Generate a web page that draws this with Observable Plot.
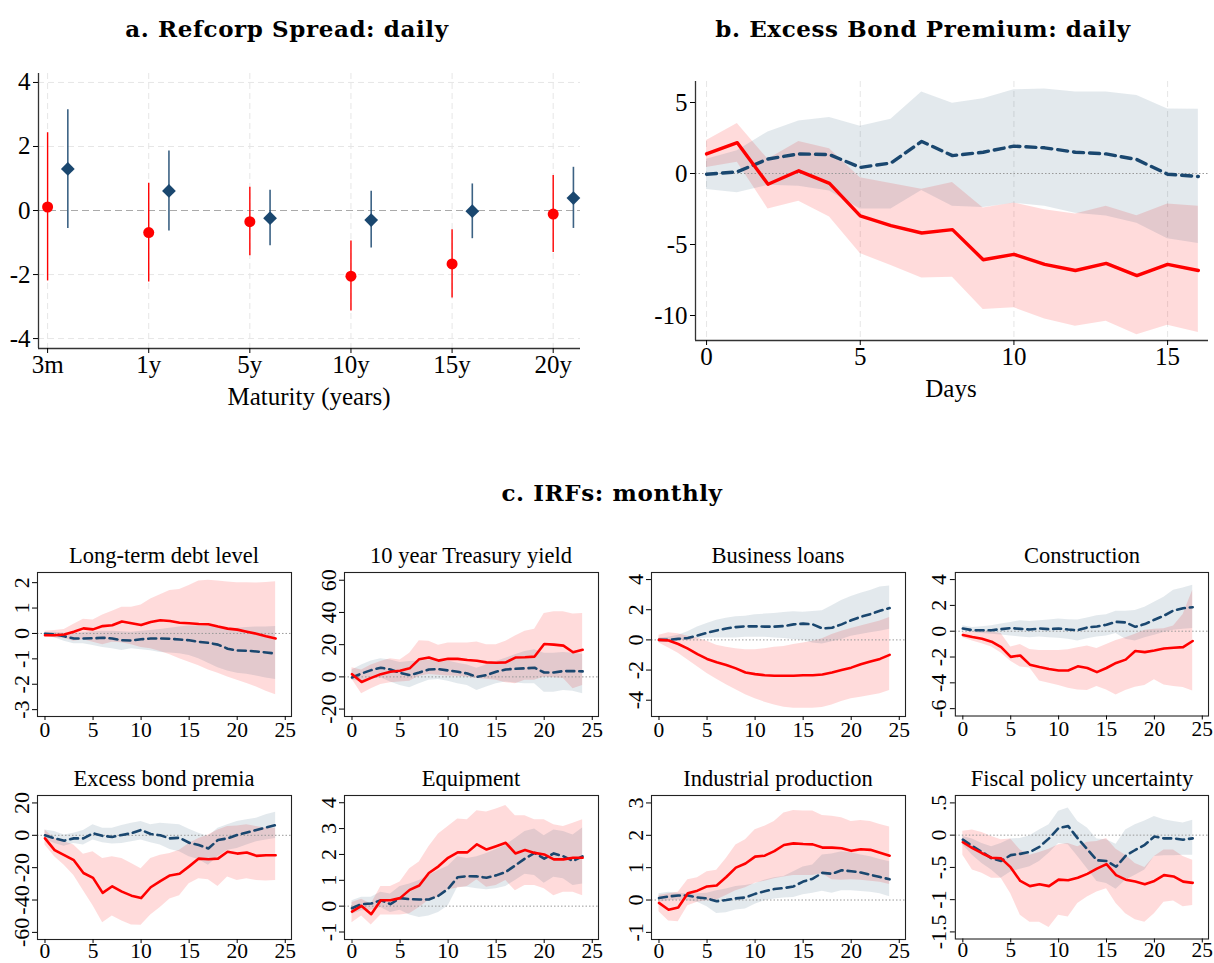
<!DOCTYPE html>
<html><head><meta charset="utf-8">
<script src="https://cdn.jsdelivr.net/npm/d3@7"></script>
<script src="https://cdn.jsdelivr.net/npm/@observablehq/plot@0.6"></script>
<style>
body{margin:0;background:#fff;}
#root{position:relative;width:1214px;height:963px;overflow:hidden;font-family:"Liberation Serif",serif;color:#000;}
.pane{position:absolute;}
.ttl{position:absolute;white-space:nowrap;transform:translate(-50%,-50%);line-height:1;}
.big{font-family:"DejaVu Serif",serif;font-weight:bold;font-size:23px;letter-spacing:0.6px;}
.sm{font-size:22.5px;}
.lab{font-size:25px;}
</style></head><body><div id="root"></div><script>
// ---------- Panel a: Refcorp spread ----------
const maturities = ["3m","1y","5y","10y","15y","20y"];
const refRed    = [0.11,-0.69,-0.35,-2.05,-1.67,-0.11];
const refRedLo  = [-2.2,-2.23,-1.41,-3.14,-2.73,-1.31];
const refRedHi  = [2.43,0.85,0.73,-0.95,-0.6,1.09];
const refBlue   = [1.3,0.61,-0.24,-0.3,-0.02,0.39];
const refBlueLo = [-0.56,-0.64,-1.1,-1.17,-0.88,-0.56];
const refBlueHi = [3.15,1.86,0.63,0.6,0.83,1.35];

// ---------- Panel b: Excess bond premium daily ----------
const days = [0,1,2,3,4,5,6,7,8,9,10,11,12,13,14,15,16];
const ebpRed    = [1.38,2.17,-0.76,0.19,-0.69,-2.98,-3.67,-4.19,-3.95,-6.07,-5.69,-6.4,-6.83,-6.33,-7.19,-6.4,-6.83];
const ebpRedHi  = [2.33,3.52,1.0,2.26,1.74,-0.29,-0.71,-1.1,-0.64,-2.43,-2.07,-2.55,-2.86,-2.31,-2.98,-2.14,-2.31];
const ebpRedLo  = [0.43,0.8,-2.5,-1.95,-3.07,-5.64,-6.48,-7.36,-7.31,-9.57,-9.45,-10.24,-10.76,-10.4,-11.36,-10.69,-11.19];
const ebpBlue   = [-0.05,0.12,1.02,1.38,1.33,0.43,0.74,2.26,1.26,1.5,1.93,1.81,1.5,1.38,0.98,-0.05,-0.21];
const ebpBlueHi = [1.0,1.6,2.93,3.69,3.95,3.33,3.83,5.74,4.95,5.26,5.9,5.95,5.74,5.74,5.5,4.55,4.52];
const ebpBlueLo = [-1.12,-1.35,-0.83,-0.9,-1.24,-2.5,-2.5,-1.2,-2.3,-2.4,-2.1,-2.3,-2.8,-3.0,-3.5,-4.6,-4.93];

// ---------- Panel c: monthly IRFs ----------
const months = [0,1,2,3,4,5,6,7,8,9,10,11,12,13,14,15,16,17,18,19,20,21,22,23,24];

const debtRed    = [-0.07,-0.07,-0.04,0.07,0.2,0.16,0.29,0.32,0.47,0.4,0.33,0.45,0.52,0.49,0.42,0.4,0.37,0.36,0.27,0.19,0.15,0.07,-0.01,-0.11,-0.2];
const debtRedLo  = [-0.13,-0.17,-0.2,-0.31,-0.25,-0.35,-0.44,-0.35,-0.37,-0.44,-0.55,-0.6,-0.71,-0.84,-1.0,-1.13,-1.27,-1.44,-1.57,-1.71,-1.84,-1.97,-2.11,-2.28,-2.41];
const debtRedHi  = [0.09,0.12,0.16,0.36,0.56,0.53,0.73,0.87,1.03,1.03,1.12,1.36,1.52,1.69,1.73,1.89,2.07,2.09,2.07,2.03,2.0,2.0,1.99,2.01,2.04];
const debtBlue   = [-0.01,-0.04,-0.11,-0.2,-0.2,-0.19,-0.17,-0.2,-0.27,-0.28,-0.23,-0.2,-0.2,-0.21,-0.24,-0.27,-0.33,-0.37,-0.44,-0.6,-0.67,-0.68,-0.71,-0.75,-0.79];
const debtBlueLo = [-0.08,-0.17,-0.31,-0.41,-0.41,-0.47,-0.55,-0.6,-0.67,-0.6,-0.64,-0.68,-0.75,-0.77,-0.8,-0.87,-1.0,-1.17,-1.35,-1.48,-1.57,-1.61,-1.68,-1.75,-1.81];
const debtBlueHi = [0.03,0.05,0.01,-0.01,0.03,0.07,0.09,0.09,0.07,0.05,0.09,0.12,0.16,0.2,0.25,0.29,0.29,0.29,0.25,0.2,0.2,0.23,0.25,0.25,0.27];

const tsyRed    = [1.7,-3.2,-0.6,1.7,3.2,3.8,5.3,11,12,10.1,11.2,11.2,10.5,10,9,8.8,9,12,12.2,12.6,20.4,20,19.4,15.3,16.8];
const tsyRedLo  = [-1.5,-10.5,-7.4,-4.8,-3.6,-3.2,-2.7,0.4,1.5,1,0.6,0.4,0,-1,-1.5,-2.1,-3.6,-4.2,-2.1,-2.1,0,-0.6,-1,-7.4,-5.3];
const tsyRedHi  = [5.7,4.2,7.4,9.5,11.2,10.5,14.7,22.5,22.1,19.6,21,21,21,21.7,20,20,22.1,25.3,28.4,29.5,39.4,40.4,40.4,39,39.4];
const tsyBlue   = [-0.4,2.1,4.2,5.7,4.6,2.5,1.1,2.7,4.6,4.8,4,3.2,2.1,0,1.1,3.2,4.6,5,5.3,5.7,2.7,2.7,3.6,3.6,3.4];
const tsyBlueLo = [-2.1,-2.7,-1.5,-0.6,-3.2,-5.3,-6.7,-4.2,-2.1,-1.7,-2.7,-4.2,-5.3,-8.4,-6.3,-4.2,-3.2,-3.8,-4.2,-4.2,-9.5,-9.5,-8.4,-9,-10.5];
const tsyBlueHi = [4.2,7.4,9.9,11.2,10.5,9,9.5,9.9,10.5,10.5,9.9,8.4,7.4,5.3,7.4,9.5,11.6,13.7,15.8,16.8,14.7,14.7,15.2,14.7,14.1];

const loanRed    = [0,-0.04,-0.27,-0.58,-0.94,-1.26,-1.48,-1.66,-1.89,-2.16,-2.27,-2.34,-2.38,-2.38,-2.38,-2.34,-2.34,-2.29,-2.16,-2.0,-1.84,-1.62,-1.44,-1.26,-0.99];
const loanRedLo  = [-0.2,-0.54,-0.88,-1.33,-1.78,-2.22,-2.61,-2.97,-3.3,-3.64,-3.91,-4.13,-4.31,-4.47,-4.54,-4.54,-4.54,-4.49,-4.31,-4.09,-3.91,-3.8,-3.69,-3.57,-3.35];
const loanRedHi  = [0.31,0.47,0.4,0.25,0.13,-0.09,-0.36,-0.49,-0.58,-0.65,-0.65,-0.58,-0.49,-0.43,-0.31,-0.2,-0.09,0.07,0.36,0.58,0.76,0.92,1.08,1.26,1.48];
const loanBlue   = [0,0,0.07,0.13,0.29,0.47,0.63,0.76,0.85,0.9,0.9,0.88,0.88,0.92,1.03,1.08,1.03,0.76,0.81,1.03,1.3,1.53,1.71,1.93,2.11];
const loanBlueLo = [-0.09,-0.09,-0.04,-0.04,0.07,0.13,0.13,0.13,0.13,0.18,0.18,0.18,0.13,0.09,0.02,-0.04,-0.2,-0.27,-0.13,0.02,0.25,0.36,0.47,0.58,0.7];
const loanBlueHi = [0.13,0.18,0.31,0.54,0.85,1.08,1.3,1.44,1.53,1.57,1.66,1.71,1.75,1.82,1.87,1.84,1.89,1.93,2.27,2.61,2.88,3.1,3.28,3.51,3.57];

const consRed    = [-0.29,-0.45,-0.58,-0.81,-1.23,-1.99,-1.88,-2.59,-2.77,-2.93,-3.04,-3.04,-2.72,-2.85,-3.17,-2.85,-2.46,-2.2,-1.54,-1.62,-1.49,-1.34,-1.28,-1.23,-0.76];
const consRedLo  = [-0.5,-0.76,-0.97,-1.23,-1.68,-2.33,-2.77,-2.85,-3.85,-4.03,-4.21,-4.42,-4.55,-4.6,-4.29,-4.55,-4.95,-4.6,-4.35,-4.21,-3.77,-4.16,-4.29,-4.37,-4.63];
const consRedHi  = [-0.1,-0.05,0.03,-0.05,-0.18,-1.23,-1.02,-1.41,-1.49,-1.49,-1.49,-1.44,-1.28,-1.15,-1.34,-1.02,-0.71,-0.5,-0.24,0.08,0.16,0.2,0.4,1.3,3.17];
const consBlue   = [0.21,0.08,0.08,0.08,0.16,0.24,0.18,0.13,0.21,0.16,0.21,0.13,0.08,0.29,0.37,0.5,0.73,0.68,0.34,0.55,0.89,1.2,1.6,1.78,1.86];
const consBlueLo = [0.03,-0.1,-0.18,-0.24,-0.29,-0.37,-0.45,-0.5,-0.45,-0.5,-0.55,-0.63,-0.76,-0.58,-0.45,-0.37,-0.18,-0.63,-0.76,-0.5,-0.31,-0.1,0.08,0.16,0.21];
const consBlueHi = [0.42,0.29,0.34,0.42,0.55,0.68,0.81,0.76,0.81,0.86,0.94,0.89,0.86,1.02,1.2,1.28,1.54,1.54,1.6,1.86,2.25,2.64,3.17,3.35,3.56];

const ebmRed    = [-1.9,-9.2,-12.3,-15.4,-23.3,-26.3,-35.6,-31.5,-34.8,-37.3,-38.8,-32.1,-28.3,-24.8,-23.8,-19.2,-14.4,-14.8,-14.4,-10.2,-11.3,-10.6,-12.7,-12.3,-12.3];
const ebmRedLo  = [-6,-13.3,-18.5,-24.8,-34.2,-43.5,-54,-49.8,-52.9,-55.4,-55.6,-49.2,-44.6,-39.4,-37.3,-30,-26.9,-27.5,-31.7,-25.8,-27.9,-26.9,-27.9,-28.3,-27.9];
const ebmRedHi  = [3.3,-1.9,-4,-6,-11.7,-10.2,-14.4,-13.3,-14.4,-17.5,-20.6,-14.4,-12.3,-11.3,-9.2,-5,-1.9,0.2,3.3,5.4,5.8,6.5,5.4,4.4,4.4];
const ebmBlue   = [0,-1.9,-3.3,-1.9,-1.9,1.3,-0.4,-1,0.2,1.3,3.3,0.8,0,-1.9,-1.5,-4.6,-6,-8.1,-2.9,-1.9,0.2,1.7,3.3,4.8,6.3];
const ebmBlueLo = [-2.5,-5,-6.7,-5,-6,-2.9,-4.6,-5.4,-5,-4,-2.9,-4.6,-6,-8.8,-10.2,-13.3,-15,-18.5,-13.3,-9.2,-8.1,-6,-4,-2.9,-1.9];
const ebmBlueHi = [3.3,2.3,0.2,1.3,2.9,6.5,4.4,4.4,6,7.5,8.5,6.5,7.5,7,6.5,3.8,1.3,-0.8,4.4,6.5,8.5,9.6,10.6,12.7,14.2];

const equRed    = [-0.21,0.01,-0.31,0.23,0.23,0.31,0.63,0.8,1.28,1.54,1.87,2.08,2.08,2.39,2.19,2.32,2.45,2.04,2.17,2.06,2.0,1.81,1.81,1.87,1.87];
const equRedLo  = [-0.64,-0.38,-0.73,-0.34,-0.34,-0.34,-0.29,-0.05,0.23,0.34,0.63,0.7,0.76,1.02,0.73,0.8,0.99,0.6,0.8,0.8,0.67,0.4,0.54,0.54,0.4];
const equRedHi  = [0.14,0.27,0.08,0.76,0.76,0.93,1.45,1.71,2.3,2.79,3.08,3.37,3.34,3.69,3.64,3.76,3.89,3.5,3.5,3.34,3.34,3.15,3.08,3.21,3.34];
const equBlue   = [-0.08,0.08,0.1,0.23,0.08,0.31,0.27,0.26,0.26,0.4,0.67,1.12,1.16,1.15,1.1,1.19,1.32,1.58,1.84,2.06,1.84,2.04,1.93,1.75,1.93];
const equBlueLo = [-0.31,-0.18,-0.16,-0.05,-0.25,-0.16,-0.34,-0.44,-0.38,-0.25,0.01,0.73,0.73,0.67,0.63,0.67,0.76,0.99,1.23,1.19,0.89,1.12,1.06,0.8,0.86];
const equBlueHi = [0.21,0.34,0.34,0.54,0.47,0.76,0.86,0.99,1.19,1.38,1.54,1.91,1.84,1.91,2.04,2.19,2.36,2.62,2.89,2.98,2.72,2.95,2.89,2.75,3.02];

const ipRed    = [-0.09,-0.3,-0.23,0.21,0.29,0.42,0.45,0.71,1.0,1.13,1.34,1.37,1.51,1.7,1.75,1.73,1.72,1.62,1.62,1.6,1.52,1.57,1.55,1.46,1.37];
const ipRedLo  = [-0.36,-0.65,-0.67,-0.18,-0.07,-0.02,0,0.14,0.29,0.38,0.52,0.58,0.66,0.71,0.76,0.76,0.76,0.81,0.63,0.61,0.63,0.61,0.58,0.55,0.48];
const ipRedHi  = [0.14,0.19,0.24,0.63,0.69,0.87,0.92,1.28,1.7,1.86,2.17,2.28,2.43,2.69,2.77,2.75,2.75,2.61,2.59,2.54,2.43,2.46,2.43,2.33,2.26];
const ipBlue   = [0.06,0.11,0.14,0.14,0.08,0.05,-0.04,0,0.05,0.08,0.19,0.27,0.34,0.37,0.42,0.57,0.66,0.84,0.81,0.92,0.89,0.85,0.78,0.71,0.64];
const ipBlueLo = [-0.07,-0.02,0,-0.02,-0.07,-0.21,-0.42,-0.39,-0.31,-0.28,-0.13,-0.02,0.03,0.06,0.08,0.16,0.21,0.27,0.21,0.29,0.29,0.26,0.24,0.19,0.1];
const ipBlueHi = [0.19,0.24,0.21,0.19,0.19,0.21,0.29,0.34,0.42,0.45,0.5,0.61,0.69,0.73,0.87,1.02,1.08,1.39,1.42,1.49,1.46,1.39,1.34,1.25,1.18];

const fpuRed    = [-0.11,-0.2,-0.28,-0.35,-0.36,-0.5,-0.71,-0.79,-0.76,-0.79,-0.69,-0.7,-0.66,-0.6,-0.52,-0.45,-0.62,-0.69,-0.72,-0.76,-0.71,-0.62,-0.64,-0.72,-0.74];
const fpuRedLo  = [-0.31,-0.54,-0.59,-0.67,-0.67,-0.91,-1.24,-1.35,-1.35,-1.43,-1.24,-1.27,-1.06,-0.96,-0.88,-0.83,-1.06,-1.22,-1.31,-1.35,-1.22,-1.04,-1.02,-1.11,-1.09];
const fpuRedHi  = [0.06,0.08,0.04,-0.02,-0.07,-0.06,-0.23,-0.31,-0.27,-0.22,-0.15,-0.13,-0.18,-0.11,-0.1,-0.05,-0.22,-0.31,-0.44,-0.5,-0.33,-0.23,-0.23,-0.33,-0.39];
const fpuBlue   = [-0.07,-0.17,-0.26,-0.36,-0.4,-0.31,-0.29,-0.26,-0.18,-0.05,0.11,0.14,-0.05,-0.22,-0.39,-0.4,-0.49,-0.32,-0.23,-0.15,-0.02,-0.05,-0.05,-0.07,-0.05];
const fpuBlueLo = [-0.15,-0.31,-0.44,-0.54,-0.67,-0.57,-0.53,-0.49,-0.41,-0.28,-0.13,-0.15,-0.33,-0.52,-0.72,-0.75,-0.84,-0.7,-0.62,-0.54,-0.33,-0.32,-0.32,-0.31,-0.31];
const fpuBlueHi = [-0.02,-0.06,-0.13,-0.18,-0.13,-0.06,-0.05,-0.01,0.08,0.16,0.37,0.42,0.21,0.11,-0.06,-0.07,-0.14,0.08,0.16,0.22,0.29,0.24,0.21,0.19,0.23];

const panelTitles = ["Long-term debt level","10 year Treasury yield","Business loans","Construction",
                     "Excess bond premia","Equipment","Industrial production","Fiscal policy uncertainty"];

// ---------- styling constants ----------
const RED = "#ff0000", NAVY = "#1a476f";
const root = document.getElementById("root");
const fmt = d => String(d).replace(/^(-?)0\./, "$1.");

function place(el, left, top) {
  const w = document.createElement("div");
  w.className = "pane"; w.style.left = left + "px"; w.style.top = top + "px";
  w.appendChild(el); root.appendChild(w);
}
function label(text, cls, cx, cy) {
  const d = document.createElement("div");
  d.className = "ttl " + cls; d.textContent = text;
  d.style.left = cx + "px"; d.style.top = cy + "px";
  root.appendChild(d);
}

// ---------- Panel a ----------
{
  const data = maturities.map((m, i) => ({m, i: i + 1, red: refRed[i], redLo: refRedLo[i], redHi: refRedHi[i],
    blue: refBlue[i], blueLo: refBlueLo[i], blueHi: refBlueHi[i]}));
  const xd = [0.91, 6.27], yd = [-4.31, 4.28];
  const svg = Plot.plot({
    width: 600, height: 360, marginLeft: 38, marginRight: 20, marginTop: 13, marginBottom: 72,
    x: {domain: xd}, y: {domain: yd},
    style: {fontFamily: "Liberation Serif", fontSize: "25px", background: "transparent", color: "#000", overflow: "visible"},
    marks: [
      Plot.gridX([1,2,3,4,5,6], {stroke: "#e6e6e6", strokeOpacity: 1, strokeDasharray: "6,4"}),
      Plot.gridY([-4,-2,2,4], {stroke: "#e6e6e6", strokeOpacity: 1, strokeDasharray: "6,4"}),
      Plot.ruleY([0], {stroke: "#aaa", strokeDasharray: "7,4", strokeWidth: 1.2}),
      Plot.ruleX(data, {x: "i", y1: "redLo", y2: "redHi", stroke: RED, strokeWidth: 1.4}),
      Plot.ruleX(data, {x: d => d.i + 0.2, y1: "blueLo", y2: "blueHi", stroke: NAVY, strokeWidth: 1.6, strokeOpacity: 0.85}),
      Plot.dot(data, {x: "i", y: "red", r: 5.5, fill: RED}),
      Plot.dot(data, {x: d => d.i + 0.2, y: "blue", r: 6.2, symbol: "diamond2", fill: NAVY}),
      Plot.ruleX([xd[0]], {stroke: "#333", strokeWidth: 1.3}),
      Plot.ruleY([yd[0]], {stroke: "#333", strokeWidth: 1.3}),
      Plot.axisY({ticks: [-4,-2,0,2,4], tickSize: 5, tickPadding: 3, tickFormat: d => String(d), label: null}),
      Plot.axisX({ticks: [1,2,3,4,5,6], tickSize: 5, tickPadding: 2, tickFormat: i => maturities[i - 1], label: null})
    ]
  });
  place(svg, 0, 60);
  label("a. Refcorp Spread: daily", "big", 287, 28);
  label("Maturity (years)", "lab", 309, 396);
}

// ---------- Panel b ----------
{
  const data = days.map((t, i) => ({t, red: ebpRed[i], redLo: ebpRedLo[i], redHi: ebpRedHi[i],
    blue: ebpBlue[i], blueLo: ebpBlueLo[i], blueHi: ebpBlueHi[i]}));
  const xd = [-0.36, 16.33], yd = [-11.76, 6.48];
  const svg = Plot.plot({
    width: 604, height: 360, marginLeft: 85, marginRight: 6, marginTop: 21, marginBottom: 80,
    x: {domain: xd}, y: {domain: yd},
    style: {fontFamily: "Liberation Serif", fontSize: "25px", background: "transparent", color: "#000", overflow: "visible"},
    marks: [
      Plot.gridX([0,5,10,15], {stroke: "#e6e6e6", strokeOpacity: 1, strokeDasharray: "6,4"}),
      Plot.areaY(data, {x: "t", y1: "redLo", y2: "redHi", fill: RED, fillOpacity: 0.14}),
      Plot.areaY(data, {x: "t", y1: "blueLo", y2: "blueHi", fill: NAVY, fillOpacity: 0.12}),
      Plot.ruleY([0], {stroke: "#999", strokeDasharray: "1.5,2", strokeWidth: 1.2}),
      Plot.lineY(data, {x: "t", y: "blue", stroke: NAVY, strokeWidth: 3.4, strokeDasharray: "10,6"}),
      Plot.lineY(data, {x: "t", y: "red", stroke: RED, strokeWidth: 3.4}),
      Plot.ruleX([xd[0]], {stroke: "#333", strokeWidth: 1.3}),
      Plot.ruleY([yd[0]], {stroke: "#333", strokeWidth: 1.3}),
      Plot.axisY({ticks: [-10,-5,0,5], tickSize: 5, tickPadding: 3, tickFormat: d => String(d), label: null}),
      Plot.axisX({ticks: [0,5,10,15], tickSize: 5, tickPadding: 2, tickFormat: d => String(d), label: null})
    ]
  });
  place(svg, 610, 60);
  label("b. Excess Bond Premium: daily", "big", 923, 28);
  label("Days", "lab", 951, 388);
}

// ---------- Panel c ----------
label("c. IRFs: monthly", "big", 612, 492);

const smallPanels = [
  {s: [debtRed, debtRedLo, debtRedHi, debtBlue, debtBlueLo, debtBlueHi], dom: [-3.27, 2.4],  ticks: [-3,-2,-1,0,1,2]},
  {s: [tsyRed, tsyRedLo, tsyRedHi, tsyBlue, tsyBlueLo, tsyBlueHi],       dom: [-24.6, 64.8], ticks: [-20,0,20,40,60]},
  {s: [loanRed, loanRedLo, loanRedHi, loanBlue, loanBlueLo, loanBlueHi], dom: [-5.08, 4.47], ticks: [-4,-2,0,2,4]},
  {s: [consRed, consRedLo, consRedHi, consBlue, consBlueLo, consBlueHi], dom: [-6.57, 4.55], ticks: [-6,-4,-2,0,2,4]},
  {s: [ebmRed, ebmRedLo, ebmRedHi, ebmBlue, ebmBlueLo, ebmBlueHi],       dom: [-64.4, 24.6], ticks: [-60,-40,-20,0,20]},
  {s: [equRed, equRedLo, equRedHi, equBlue, equBlueLo, equBlueHi],       dom: [-1.29, 4.28], ticks: [-1,0,1,2,3,4]},
  {s: [ipRed, ipRedLo, ipRedHi, ipBlue, ipBlueLo, ipBlueHi],             dom: [-1.22, 3.23], ticks: [-1,0,1,2,3]},
  {s: [fpuRed, fpuRedLo, fpuRedHi, fpuBlue, fpuBlueLo, fpuBlueHi],       dom: [-1.61, 0.615], ticks: [-1.5,-1,-0.5,0,0.5]}
];
const colLeft = [37, 344, 651, 955], rowTop = [572, 795];
const FW = 254, FH = 144, mL = 44, mR = 6, mT = 4, mB = 40;

smallPanels.forEach((p, k) => {
  const [r, rl, rh, b, bl, bh] = p.s;
  const data = months.map((t, i) => ({t, red: r[i], redLo: rl[i], redHi: rh[i], blue: b[i], blueLo: bl[i], blueHi: bh[i]}));
  const row = Math.floor(k / 4), col = k % 4;
  const svg = Plot.plot({
    width: FW + mL + mR, height: FH + mT + mB,
    marginLeft: mL, marginRight: mR, marginTop: mT, marginBottom: mB,
    x: {domain: [-0.78, 25.65]}, y: {domain: p.dom},
    style: {fontFamily: "Liberation Serif", fontSize: "21.5px", background: "transparent", color: "#000", overflow: "visible"},
    marks: [
      Plot.areaY(data, {x: "t", y1: "redLo", y2: "redHi", fill: RED, fillOpacity: 0.14}),
      Plot.areaY(data, {x: "t", y1: "blueLo", y2: "blueHi", fill: NAVY, fillOpacity: 0.12}),
      Plot.ruleY([0], {stroke: "#999", strokeDasharray: "1.5,2"}),
      Plot.lineY(data, {x: "t", y: "blue", stroke: NAVY, strokeWidth: 2.6, strokeDasharray: "8,5"}),
      Plot.lineY(data, {x: "t", y: "red", stroke: RED, strokeWidth: 2.6}),
      Plot.frame({stroke: "#222", strokeWidth: 1.1}),
      Plot.axisX({ticks: [0,5,10,15,20,25], tickSize: 4, tickPadding: row ? -1 : 1, tickFormat: d => String(d), label: null}),
      Plot.axisY({ticks: p.ticks, tickSize: 5, tickFormat: () => "", label: null}),
      Plot.text(p.ticks, {y: d => d, text: fmt, frameAnchor: "left", dx: -9, rotate: -90,
                          textAnchor: "middle", lineAnchor: "bottom", fontSize: 22})
    ]
  });
  place(svg, colLeft[col] - mL, rowTop[row] - mT);
  label(panelTitles[k], "sm", colLeft[col] + FW / 2, rowTop[row] - 16);
});
</script></body></html>
